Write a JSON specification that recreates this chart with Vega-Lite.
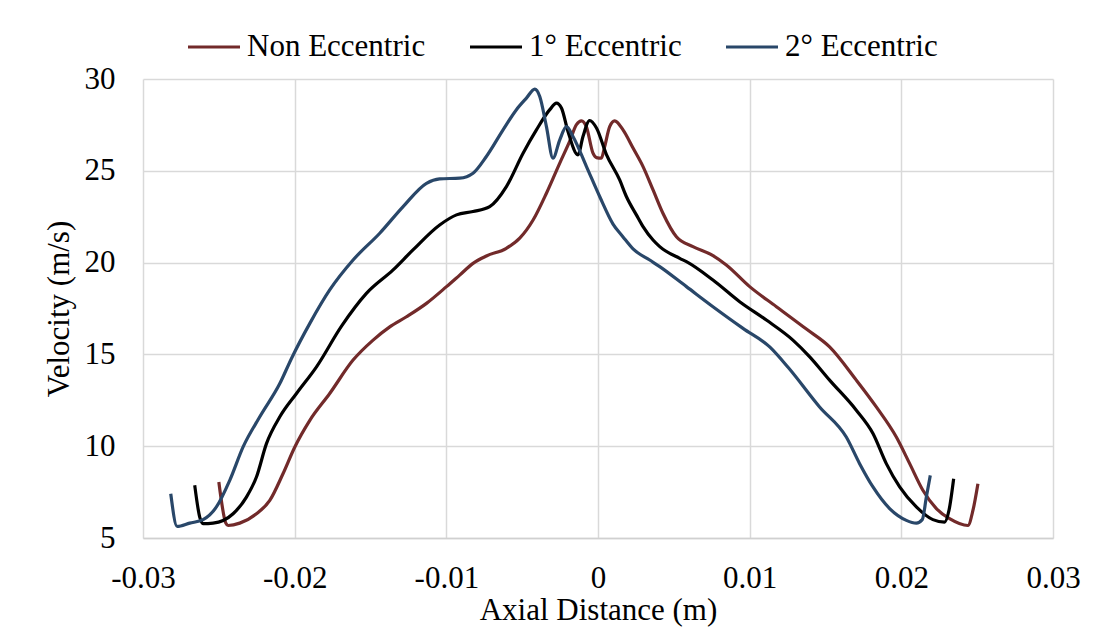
{
  "$schema": "https://vega.github.io/schema/vega-lite/v6.json",
  "width": 910,
  "height": 459,
  "autosize": {"type": "none"},
  "padding": {"left": 143, "top": 79, "right": 55, "bottom": 94},
  "background": "white",
  "config": {
    "view": {"stroke": null},
    "font": "Liberation Serif"
  },
  "data": {
    "values": [
      {"s": "Non Eccentric", "i": 1, "x": -0.0250, "y": 8.05},
      {"s": "Non Eccentric", "i": 2, "x": -0.02454, "y": 5.81},
      {"s": "Non Eccentric", "i": 3, "x": -0.02439, "y": 5.68},
      {"s": "Non Eccentric", "i": 4, "x": -0.02362, "y": 5.81},
      {"s": "Non Eccentric", "i": 5, "x": -0.02252, "y": 6.32},
      {"s": "Non Eccentric", "i": 6, "x": -0.02164, "y": 7.05},
      {"s": "Non Eccentric", "i": 7, "x": -0.02077, "y": 8.5},
      {"s": "Non Eccentric", "i": 8, "x": -0.01999, "y": 9.96},
      {"s": "Non Eccentric", "i": 9, "x": -0.0190, "y": 11.41},
      {"s": "Non Eccentric", "i": 10, "x": -0.01769, "y": 12.87},
      {"s": "Non Eccentric", "i": 11, "x": -0.01615, "y": 14.69},
      {"s": "Non Eccentric", "i": 12, "x": -0.01483, "y": 15.78},
      {"s": "Non Eccentric", "i": 13, "x": -0.01373, "y": 16.50},
      {"s": "Non Eccentric", "i": 14, "x": -0.01263, "y": 17.05},
      {"s": "Non Eccentric", "i": 15, "x": -0.01131, "y": 17.78},
      {"s": "Non Eccentric", "i": 16, "x": -0.00999, "y": 18.69},
      {"s": "Non Eccentric", "i": 17, "x": -0.00912, "y": 19.32},
      {"s": "Non Eccentric", "i": 18, "x": -0.00824, "y": 19.96},
      {"s": "Non Eccentric", "i": 19, "x": -0.00736, "y": 20.36},
      {"s": "Non Eccentric", "i": 20, "x": -0.00604, "y": 20.78},
      {"s": "Non Eccentric", "i": 21, "x": -0.00516, "y": 21.33},
      {"s": "Non Eccentric", "i": 22, "x": -0.00428, "y": 22.32},
      {"s": "Non Eccentric", "i": 23, "x": -0.0034, "y": 23.78},
      {"s": "Non Eccentric", "i": 24, "x": -0.00252, "y": 25.42},
      {"s": "Non Eccentric", "i": 25, "x": -0.00187, "y": 26.6},
      {"s": "Non Eccentric", "i": 26, "x": -0.00142, "y": 27.51},
      {"s": "Non Eccentric", "i": 27, "x": -0.00109, "y": 27.72},
      {"s": "Non Eccentric", "i": 28, "x": -0.00077, "y": 27.41},
      {"s": "Non Eccentric", "i": 29, "x": -0.00033, "y": 25.96},
      {"s": "Non Eccentric", "i": 30, "x": -0.0001, "y": 25.72},
      {"s": "Non Eccentric", "i": 31, "x": 0.00022, "y": 25.69},
      {"s": "Non Eccentric", "i": 32, "x": 0.00044, "y": 26.32},
      {"s": "Non Eccentric", "i": 33, "x": 0.00077, "y": 27.41},
      {"s": "Non Eccentric", "i": 34, "x": 0.0011, "y": 27.72},
      {"s": "Non Eccentric", "i": 35, "x": 0.00165, "y": 27.23},
      {"s": "Non Eccentric", "i": 36, "x": 0.00231, "y": 26.24},
      {"s": "Non Eccentric", "i": 37, "x": 0.00297, "y": 25.23},
      {"s": "Non Eccentric", "i": 38, "x": 0.00363, "y": 23.96},
      {"s": "Non Eccentric", "i": 39, "x": 0.00428, "y": 22.69},
      {"s": "Non Eccentric", "i": 40, "x": 0.00517, "y": 21.41},
      {"s": "Non Eccentric", "i": 41, "x": 0.00626, "y": 20.87},
      {"s": "Non Eccentric", "i": 42, "x": 0.00758, "y": 20.38},
      {"s": "Non Eccentric", "i": 43, "x": 0.00846, "y": 19.87},
      {"s": "Non Eccentric", "i": 44, "x": 0.0100, "y": 18.69},
      {"s": "Non Eccentric", "i": 45, "x": 0.01176, "y": 17.6},
      {"s": "Non Eccentric", "i": 46, "x": 0.01374, "y": 16.38},
      {"s": "Non Eccentric", "i": 47, "x": 0.01527, "y": 15.41},
      {"s": "Non Eccentric", "i": 48, "x": 0.01703, "y": 13.6},
      {"s": "Non Eccentric", "i": 49, "x": 0.01835, "y": 12.14},
      {"s": "Non Eccentric", "i": 50, "x": 0.01967, "y": 10.5},
      {"s": "Non Eccentric", "i": 51, "x": 0.02055, "y": 9.05},
      {"s": "Non Eccentric", "i": 52, "x": 0.02142, "y": 7.6},
      {"s": "Non Eccentric", "i": 53, "x": 0.02231, "y": 6.6},
      {"s": "Non Eccentric", "i": 54, "x": 0.02318, "y": 6.05},
      {"s": "Non Eccentric", "i": 55, "x": 0.02439, "y": 5.68},
      {"s": "Non Eccentric", "i": 56, "x": 0.02472, "y": 6.5},
      {"s": "Non Eccentric", "i": 57, "x": 0.02505, "y": 7.96},

      {"s": "1° Eccentric", "i": 1, "x": -0.02659, "y": 7.87},
      {"s": "1° Eccentric", "i": 2, "x": -0.02626, "y": 6.14},
      {"s": "1° Eccentric", "i": 3, "x": -0.02604, "y": 5.78},
      {"s": "1° Eccentric", "i": 4, "x": -0.02538, "y": 5.81},
      {"s": "1° Eccentric", "i": 5, "x": -0.02406, "y": 6.32},
      {"s": "1° Eccentric", "i": 6, "x": -0.02318, "y": 7.23},
      {"s": "1° Eccentric", "i": 7, "x": -0.02252, "y": 8.32},
      {"s": "1° Eccentric", "i": 8, "x": -0.02186, "y": 10.14},
      {"s": "1° Eccentric", "i": 9, "x": -0.02098, "y": 11.6},
      {"s": "1° Eccentric", "i": 10, "x": -0.01988, "y": 12.87},
      {"s": "1° Eccentric", "i": 11, "x": -0.01856, "y": 14.32},
      {"s": "1° Eccentric", "i": 12, "x": -0.01690, "y": 16.55},
      {"s": "1° Eccentric", "i": 13, "x": -0.01527, "y": 18.32},
      {"s": "1° Eccentric", "i": 14, "x": -0.01351, "y": 19.6},
      {"s": "1° Eccentric", "i": 15, "x": -0.0122, "y": 20.69},
      {"s": "1° Eccentric", "i": 16, "x": -0.01044, "y": 22.05},
      {"s": "1° Eccentric", "i": 17, "x": -0.00933, "y": 22.6},
      {"s": "1° Eccentric", "i": 18, "x": -0.00824, "y": 22.78},
      {"s": "1° Eccentric", "i": 19, "x": -0.00714, "y": 23.05},
      {"s": "1° Eccentric", "i": 20, "x": -0.00604, "y": 24.14},
      {"s": "1° Eccentric", "i": 21, "x": -0.00494, "y": 25.96},
      {"s": "1° Eccentric", "i": 22, "x": -0.00406, "y": 27.23},
      {"s": "1° Eccentric", "i": 23, "x": -0.00318, "y": 28.33},
      {"s": "1° Eccentric", "i": 24, "x": -0.00274, "y": 28.69},
      {"s": "1° Eccentric", "i": 25, "x": -0.00241, "y": 28.42},
      {"s": "1° Eccentric", "i": 26, "x": -0.00198, "y": 27.14},
      {"s": "1° Eccentric", "i": 27, "x": -0.00132, "y": 25.87},
      {"s": "1° Eccentric", "i": 28, "x": -0.00099, "y": 26.87},
      {"s": "1° Eccentric", "i": 29, "x": -0.00055, "y": 27.74},
      {"s": "1° Eccentric", "i": 30, "x": -0.0001, "y": 27.33},
      {"s": "1° Eccentric", "i": 31, "x": 0.00055, "y": 25.9},
      {"s": "1° Eccentric", "i": 32, "x": 0.00143, "y": 24.5},
      {"s": "1° Eccentric", "i": 33, "x": 0.00187, "y": 23.6},
      {"s": "1° Eccentric", "i": 34, "x": 0.00253, "y": 22.6},
      {"s": "1° Eccentric", "i": 35, "x": 0.00297, "y": 21.96},
      {"s": "1° Eccentric", "i": 36, "x": 0.00363, "y": 21.23},
      {"s": "1° Eccentric", "i": 37, "x": 0.00407, "y": 20.87},
      {"s": "1° Eccentric", "i": 38, "x": 0.00539, "y": 20.23},
      {"s": "1° Eccentric", "i": 39, "x": 0.00583, "y": 20.05},
      {"s": "1° Eccentric", "i": 40, "x": 0.00758, "y": 19.05},
      {"s": "1° Eccentric", "i": 41, "x": 0.00934, "y": 17.87},
      {"s": "1° Eccentric", "i": 42, "x": 0.0111, "y": 16.87},
      {"s": "1° Eccentric", "i": 43, "x": 0.01285, "y": 15.78},
      {"s": "1° Eccentric", "i": 44, "x": 0.01396, "y": 14.87},
      {"s": "1° Eccentric", "i": 45, "x": 0.01527, "y": 13.6},
      {"s": "1° Eccentric", "i": 46, "x": 0.01703, "y": 11.96},
      {"s": "1° Eccentric", "i": 47, "x": 0.01813, "y": 10.69},
      {"s": "1° Eccentric", "i": 48, "x": 0.01901, "y": 9.05},
      {"s": "1° Eccentric", "i": 49, "x": 0.01989, "y": 7.78},
      {"s": "1° Eccentric", "i": 50, "x": 0.02099, "y": 6.69},
      {"s": "1° Eccentric", "i": 51, "x": 0.02208, "y": 6.0},
      {"s": "1° Eccentric", "i": 52, "x": 0.02285, "y": 5.87},
      {"s": "1° Eccentric", "i": 53, "x": 0.02314, "y": 6.5},
      {"s": "1° Eccentric", "i": 54, "x": 0.02345, "y": 8.23},

      {"s": "2° Eccentric", "i": 1, "x": -0.02817, "y": 7.41},
      {"s": "2° Eccentric", "i": 2, "x": -0.02775, "y": 5.63},
      {"s": "2° Eccentric", "i": 3, "x": -0.02692, "y": 5.81},
      {"s": "2° Eccentric", "i": 4, "x": -0.02604, "y": 6.0},
      {"s": "2° Eccentric", "i": 5, "x": -0.02516, "y": 6.69},
      {"s": "2° Eccentric", "i": 6, "x": -0.02428, "y": 8.14},
      {"s": "2° Eccentric", "i": 7, "x": -0.0234, "y": 9.96},
      {"s": "2° Eccentric", "i": 8, "x": -0.0223, "y": 11.6},
      {"s": "2° Eccentric", "i": 9, "x": -0.02098, "y": 13.41},
      {"s": "2° Eccentric", "i": 10, "x": -0.02021, "y": 14.78},
      {"s": "2° Eccentric", "i": 11, "x": -0.019, "y": 16.69},
      {"s": "2° Eccentric", "i": 12, "x": -0.01769, "y": 18.51},
      {"s": "2° Eccentric", "i": 13, "x": -0.01615, "y": 20.14},
      {"s": "2° Eccentric", "i": 14, "x": -0.01439, "y": 21.6},
      {"s": "2° Eccentric", "i": 15, "x": -0.01285, "y": 23.05},
      {"s": "2° Eccentric", "i": 16, "x": -0.01131, "y": 24.32},
      {"s": "2° Eccentric", "i": 17, "x": -0.01044, "y": 24.56},
      {"s": "2° Eccentric", "i": 18, "x": -0.00912, "y": 24.6},
      {"s": "2° Eccentric", "i": 19, "x": -0.00824, "y": 24.87},
      {"s": "2° Eccentric", "i": 20, "x": -0.00736, "y": 25.78},
      {"s": "2° Eccentric", "i": 21, "x": -0.00626, "y": 27.23},
      {"s": "2° Eccentric", "i": 22, "x": -0.00538, "y": 28.33},
      {"s": "2° Eccentric", "i": 23, "x": -0.00472, "y": 28.96},
      {"s": "2° Eccentric", "i": 24, "x": -0.00417, "y": 29.45},
      {"s": "2° Eccentric", "i": 25, "x": -0.00384, "y": 29.05},
      {"s": "2° Eccentric", "i": 26, "x": -0.0034, "y": 27.41},
      {"s": "2° Eccentric", "i": 27, "x": -0.00297, "y": 25.69},
      {"s": "2° Eccentric", "i": 28, "x": -0.00252, "y": 26.69},
      {"s": "2° Eccentric", "i": 29, "x": -0.00208, "y": 27.41},
      {"s": "2° Eccentric", "i": 30, "x": -0.00165, "y": 26.87},
      {"s": "2° Eccentric", "i": 31, "x": -0.00076, "y": 25.23},
      {"s": "2° Eccentric", "i": 32, "x": 0.00011, "y": 23.6},
      {"s": "2° Eccentric", "i": 33, "x": 0.00099, "y": 22.1},
      {"s": "2° Eccentric", "i": 34, "x": 0.00165, "y": 21.4},
      {"s": "2° Eccentric", "i": 35, "x": 0.00231, "y": 20.75},
      {"s": "2° Eccentric", "i": 36, "x": 0.00341, "y": 20.14},
      {"s": "2° Eccentric", "i": 37, "x": 0.00407, "y": 19.78},
      {"s": "2° Eccentric", "i": 38, "x": 0.00583, "y": 18.69},
      {"s": "2° Eccentric", "i": 39, "x": 0.00758, "y": 17.6},
      {"s": "2° Eccentric", "i": 40, "x": 0.00956, "y": 16.42},
      {"s": "2° Eccentric", "i": 41, "x": 0.01132, "y": 15.41},
      {"s": "2° Eccentric", "i": 42, "x": 0.01253, "y": 14.3},
      {"s": "2° Eccentric", "i": 43, "x": 0.01461, "y": 12.14},
      {"s": "2° Eccentric", "i": 44, "x": 0.01637, "y": 10.5},
      {"s": "2° Eccentric", "i": 45, "x": 0.01725, "y": 9.05},
      {"s": "2° Eccentric", "i": 46, "x": 0.01813, "y": 7.78},
      {"s": "2° Eccentric", "i": 47, "x": 0.01923, "y": 6.6},
      {"s": "2° Eccentric", "i": 48, "x": 0.02033, "y": 5.96},
      {"s": "2° Eccentric", "i": 49, "x": 0.02099, "y": 5.81},
      {"s": "2° Eccentric", "i": 50, "x": 0.02138, "y": 6.0},
      {"s": "2° Eccentric", "i": 51, "x": 0.02165, "y": 7.23},
      {"s": "2° Eccentric", "i": 52, "x": 0.02191, "y": 8.41}
    ]
  },
  "mark": {"type": "line", "interpolate": "monotone", "strokeWidth": 3.2, "clip": true},
  "encoding": {
    "x": {
      "field": "x",
      "type": "quantitative",
      "scale": {"domain": [-0.03, 0.03], "nice": false, "zero": false},
      "axis": {
        "title": "Axial Distance (m)",
        "values": [-0.03, -0.02, -0.01, 0, 0.01, 0.02, 0.03],
        "labelExpr": "datum.value == 0 ? '0' : (datum.value < 0 ? '-' : '') + format(abs(datum.value), '.2f')",
        "labelFont": "Liberation Serif",
        "labelFontSize": 31,
        "labelColor": "#000000",
        "labelPadding": 25,
        "labelFlush": false,
        "labelOverlap": false,
        "ticks": false,
        "domain": true,
        "domainColor": "#D0D0D0",
        "domainWidth": 1.5,
        "grid": true,
        "gridColor": "#D9D9D9",
        "gridWidth": 1.5,
        "titleFont": "Liberation Serif",
        "titleFontSize": 31,
        "titleFontWeight": "normal",
        "titleColor": "#000000",
        "titleBaseline": "alphabetic",
        "titleY": 81
      }
    },
    "y": {
      "field": "y",
      "type": "quantitative",
      "scale": {"domain": [5, 30], "nice": false, "zero": false},
      "axis": {
        "title": "Velocity (m/s)",
        "values": [5, 10, 15, 20, 25, 30],
        "labelFont": "Liberation Serif",
        "labelFontSize": 31,
        "labelColor": "#000000",
        "labelPadding": 28,
        "labelFlush": false,
        "labelOverlap": false,
        "ticks": false,
        "domain": false,
        "grid": true,
        "gridColor": "#D9D9D9",
        "gridWidth": 1.5,
        "titleFont": "Liberation Serif",
        "titleFontSize": 31,
        "titleFontWeight": "normal",
        "titleColor": "#000000",
        "titleBaseline": "alphabetic",
        "titleX": -75
      }
    },
    "color": {
      "field": "s",
      "type": "nominal",
      "scale": {
        "domain": ["Non Eccentric", "1° Eccentric", "2° Eccentric"],
        "range": ["#722A2A", "#000000", "#294769"]
      },
      "legend": {
        "title": null,
        "orient": "none",
        "direction": "horizontal",
        "legendX": 43,
        "legendY": -60,
        "padding": 0,
        "symbolType": "stroke",
        "symbolSize": 2704,
        "symbolStrokeWidth": 3.2,
        "labelFont": "Liberation Serif",
        "labelFontSize": 31,
        "labelColor": "#000000",
        "labelOffset": 5,
        "columnPadding": 37,
        "labelLimit": 400
      }
    },
    "order": {"field": "i", "type": "quantitative"}
  }
}
